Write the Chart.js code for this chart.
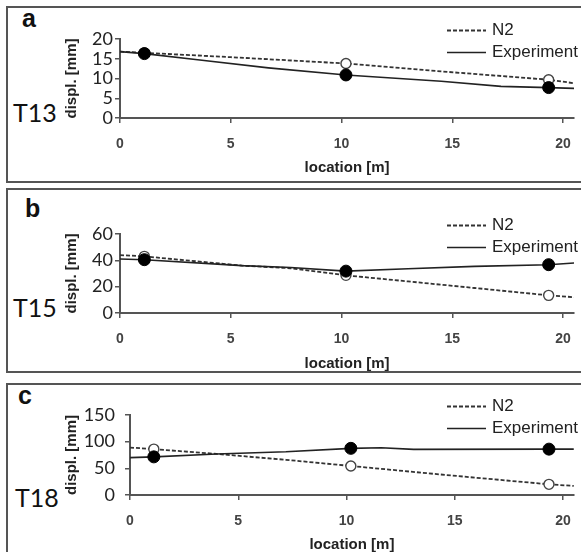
<!DOCTYPE html>
<html>
<head>
<meta charset="utf-8">
<script src="https://cdn.jsdelivr.net/npm/chart.js@4/dist/chart.umd.min.js"></script>
<style>
  html, body { margin: 0; padding: 0; background: #fff; overflow: hidden; }
  #wrap { position: relative; width: 584px; height: 552px; overflow: hidden; }
  canvas { position: absolute; left: 0; }
  svg { position: absolute; left: 0; top: 0; }
</style>
</head>
<body>
<div id="wrap">
  <svg id="frame" width="584" height="552">
    <g stroke="#555" stroke-width="2" fill="none">
      <path d="M581 7 H7 V182 H581" />
      <path d="M581 189 H7 V372 H581" />
      <path d="M581 384 H7 V560" />
    </g>
    <g font-family="Liberation Sans, Arial, sans-serif" font-weight="bold" font-size="25" fill="#111">
      <text x="22" y="27">a</text>
      <text x="25" y="217">b</text>
      <text x="18" y="404">c</text>
    </g>
    <g font-family="Lato, 'Open Sans', sans-serif" font-size="25" fill="#111">
      <text x="13" y="122">T13</text>
      <text x="13" y="317">T15</text>
      <text x="15" y="507">T18</text>
    </g>
  </svg>
  <canvas id="chartA" width="584" height="184" style="top:0px"></canvas>
  <canvas id="chartB" width="584" height="190" style="top:184px"></canvas>
  <canvas id="chartC" width="584" height="184" style="top:376px"></canvas>
</div>
<script>
// Gauge positions along the specimen [m]
const gaugeLocations = [1.1, 10.2, 19.35];
const xTickValues = [0, 5, 10, 15, 20];

// T13
const n2LocA  = [0, 1.1, 5, 10.2, 14.5, 19.35, 20.5];
const n2DispA = [16.8, 16.5, 15.4, 13.8, 11.8, 9.7, 8.8];
const expLocA  = [0, 1.1, 3.7, 6.7, 10.2, 14.5, 17.2, 19.35, 20.5];
const expDispA = [16.8, 16.3, 14.6, 12.7, 10.9, 9.3, 8.0, 7.7, 7.5];
const n2GaugeA  = [16.5, 13.8, 9.7];
const expGaugeA = [16.3, 10.9, 7.7];
const yTicksA = [0, 5, 10, 15, 20];

// T15
const n2LocB  = [0, 1.1, 5.5, 7.7, 10.2, 13, 16, 19.35, 20.5];
const n2DispB = [44, 43, 36, 34, 28.6, 24, 19, 13.4, 12];
const expLocB  = [0, 1.1, 5.5, 7.7, 10.2, 13, 16, 19.35, 20.5];
const expDispB = [41, 40.5, 36, 34.6, 31.8, 33.6, 35.4, 36.7, 38];
const n2GaugeB  = [43, 28.6, 13.4];
const expGaugeB = [40.5, 31.8, 36.7];
const yTicksB = [0, 20, 40, 60];

// T18
const n2LocC  = [0, 1.1, 4, 7.2, 10.2, 14.6, 19.35, 20.5];
const n2DispC = [89, 86, 77, 66, 54.4, 37.5, 20, 17];
const expLocC  = [0, 1.1, 4, 7.2, 10.2, 11.6, 13.1, 19.35, 20.5];
const expDispC = [70, 71.5, 77, 81, 87.5, 88.5, 85.5, 86, 86];
const n2GaugeC  = [86, 54.4, 20];
const expGaugeC = [71.5, 87.5, 86];
const yTicksC = [0, 50, 100, 150];

const pts = (xs, ys) => xs.map((x, i) => ({ x, y: ys[i] }));

// Line-sample legend in the top-right corner of each panel (N2 first, then Experiment)
const cornerLegend = {
  id: 'cornerLegend',
  afterDraw(chart) {
    const { ctx, chartArea } = chart;
    const rows = chart.data.datasets.filter(d => d.inLegend).reverse();
    ctx.save();
    ctx.font = '17px "Liberation Sans", Arial, sans-serif';
    ctx.textBaseline = 'middle';
    ctx.fillStyle = '#222';
    rows.forEach((d, i) => {
      const y = Math.round(chartArea.top - 9 + i * 22) + 0.5;
      ctx.beginPath();
      ctx.setLineDash(d.borderDash || []);
      ctx.strokeStyle = d.borderColor;
      ctx.lineWidth = d.borderWidth;
      ctx.moveTo(447, y);
      ctx.lineTo(486, y);
      ctx.stroke();
      ctx.setLineDash([]);
      ctx.fillText(d.label, 492, y);
    });
    ctx.restore();
  }
};

const axisFont = '"Liberation Sans", Arial, sans-serif';

function makePanel(id, cfg) {
  const canvas = document.getElementById(id);
  const H = canvas.height;
  const axisLeft = 63;
  return new Chart(canvas, {
    type: 'scatter',
    data: {
      datasets: [
        { label: 'Experiment gauges', data: pts(gaugeLocations, cfg.expGauge), showLine: false,
          pointRadius: 6, pointBackgroundColor: '#000', pointBorderColor: '#000', pointBorderWidth: 1 },
        { label: 'N2 gauges', data: pts(gaugeLocations, cfg.n2Gauge), showLine: false,
          pointRadius: 5, pointBackgroundColor: '#fff', pointBorderColor: '#444', pointBorderWidth: 1.4 },
        { label: 'Experiment', inLegend: true, data: pts(cfg.expLoc, cfg.expDisp), showLine: true,
          pointRadius: 0, borderColor: '#222', borderWidth: 1.6, tension: 0 },
        { label: 'N2', inLegend: true, data: pts(cfg.n2Loc, cfg.n2Disp), showLine: true,
          pointRadius: 0, borderColor: '#333', borderWidth: 1.8, borderDash: [4, 2], tension: 0 }
      ]
    },
    options: {
      responsive: false,
      animation: false,
      events: [],
      layout: { padding: { left: axisLeft, right: 6, top: cfg.chartTop, bottom: H - cfg.axisBottom } },
      plugins: { legend: { display: false }, tooltip: { enabled: false } },
      scales: {
        x: {
          type: 'linear', min: 0, max: 20.5,
          afterBuildTicks: s => { s.ticks = xTickValues.map(v => ({ value: v })); },
          afterFit: s => { s.height = cfg.axisBottom - cfg.chartBottom; },
          grid: { display: true, drawOnChartArea: false, drawTicks: true, tickLength: 5, color: '#555', lineWidth: 1.5 },
          border: { display: true, color: '#555', width: 2 },
          ticks: { autoSkip: false, maxRotation: 0, padding: 13, color: '#444',
                   font: { family: axisFont, size: 14, weight: 'bold' } },
          title: { display: true, text: 'location [m]', color: '#222', padding: 0,
                   font: { family: axisFont, size: 15, weight: 'bold' } }
        },
        y: {
          type: 'linear', min: 0, max: cfg.yTicks[cfg.yTicks.length - 1],
          afterBuildTicks: s => { s.ticks = cfg.yTicks.map(v => ({ value: v })); },
          afterFit: s => { s.width = cfg.chartLeft - axisLeft; },
          grid: { display: true, drawOnChartArea: false, drawTicks: true, tickLength: 5, color: '#555', lineWidth: 1.5 },
          border: { display: true, color: '#555', width: 2 },
          ticks: { autoSkip: false, padding: cfg.yPad, color: '#222',
                   font: { family: 'Lato, "Open Sans", sans-serif', size: 18 } },
          title: { display: true, text: 'displ. [mm]', color: '#222', padding: 0,
                   font: { family: axisFont, size: 15, weight: 'bold' } }
        }
      }
    },
    plugins: [cornerLegend]
  });
}

makePanel('chartA', {
  n2Loc: n2LocA, n2Disp: n2DispA, expLoc: expLocA, expDisp: expDispA,
  n2Gauge: n2GaugeA, expGauge: expGaugeA, yTicks: yTicksA,
  chartTop: 39, chartBottom: 118, axisBottom: 177, chartLeft: 120, yPad: 2
});
makePanel('chartB', {
  n2Loc: n2LocB, n2Disp: n2DispB, expLoc: expLocB, expDisp: expDispB,
  n2Gauge: n2GaugeB, expGauge: expGaugeB, yTicks: yTicksB,
  chartTop: 234 - 184, chartBottom: 313 - 184, axisBottom: 373 - 184, chartLeft: 120, yPad: 2
});
makePanel('chartC', {
  n2Loc: n2LocC, n2Disp: n2DispC, expLoc: expLocC, expDisp: expDispC,
  n2Gauge: n2GaugeC, expGauge: expGaugeC, yTicks: yTicksC,
  chartTop: 415 - 376, chartBottom: 495 - 376, axisBottom: 554 - 376, chartLeft: 130, yPad: 10
});
</script>
</body>
</html>
